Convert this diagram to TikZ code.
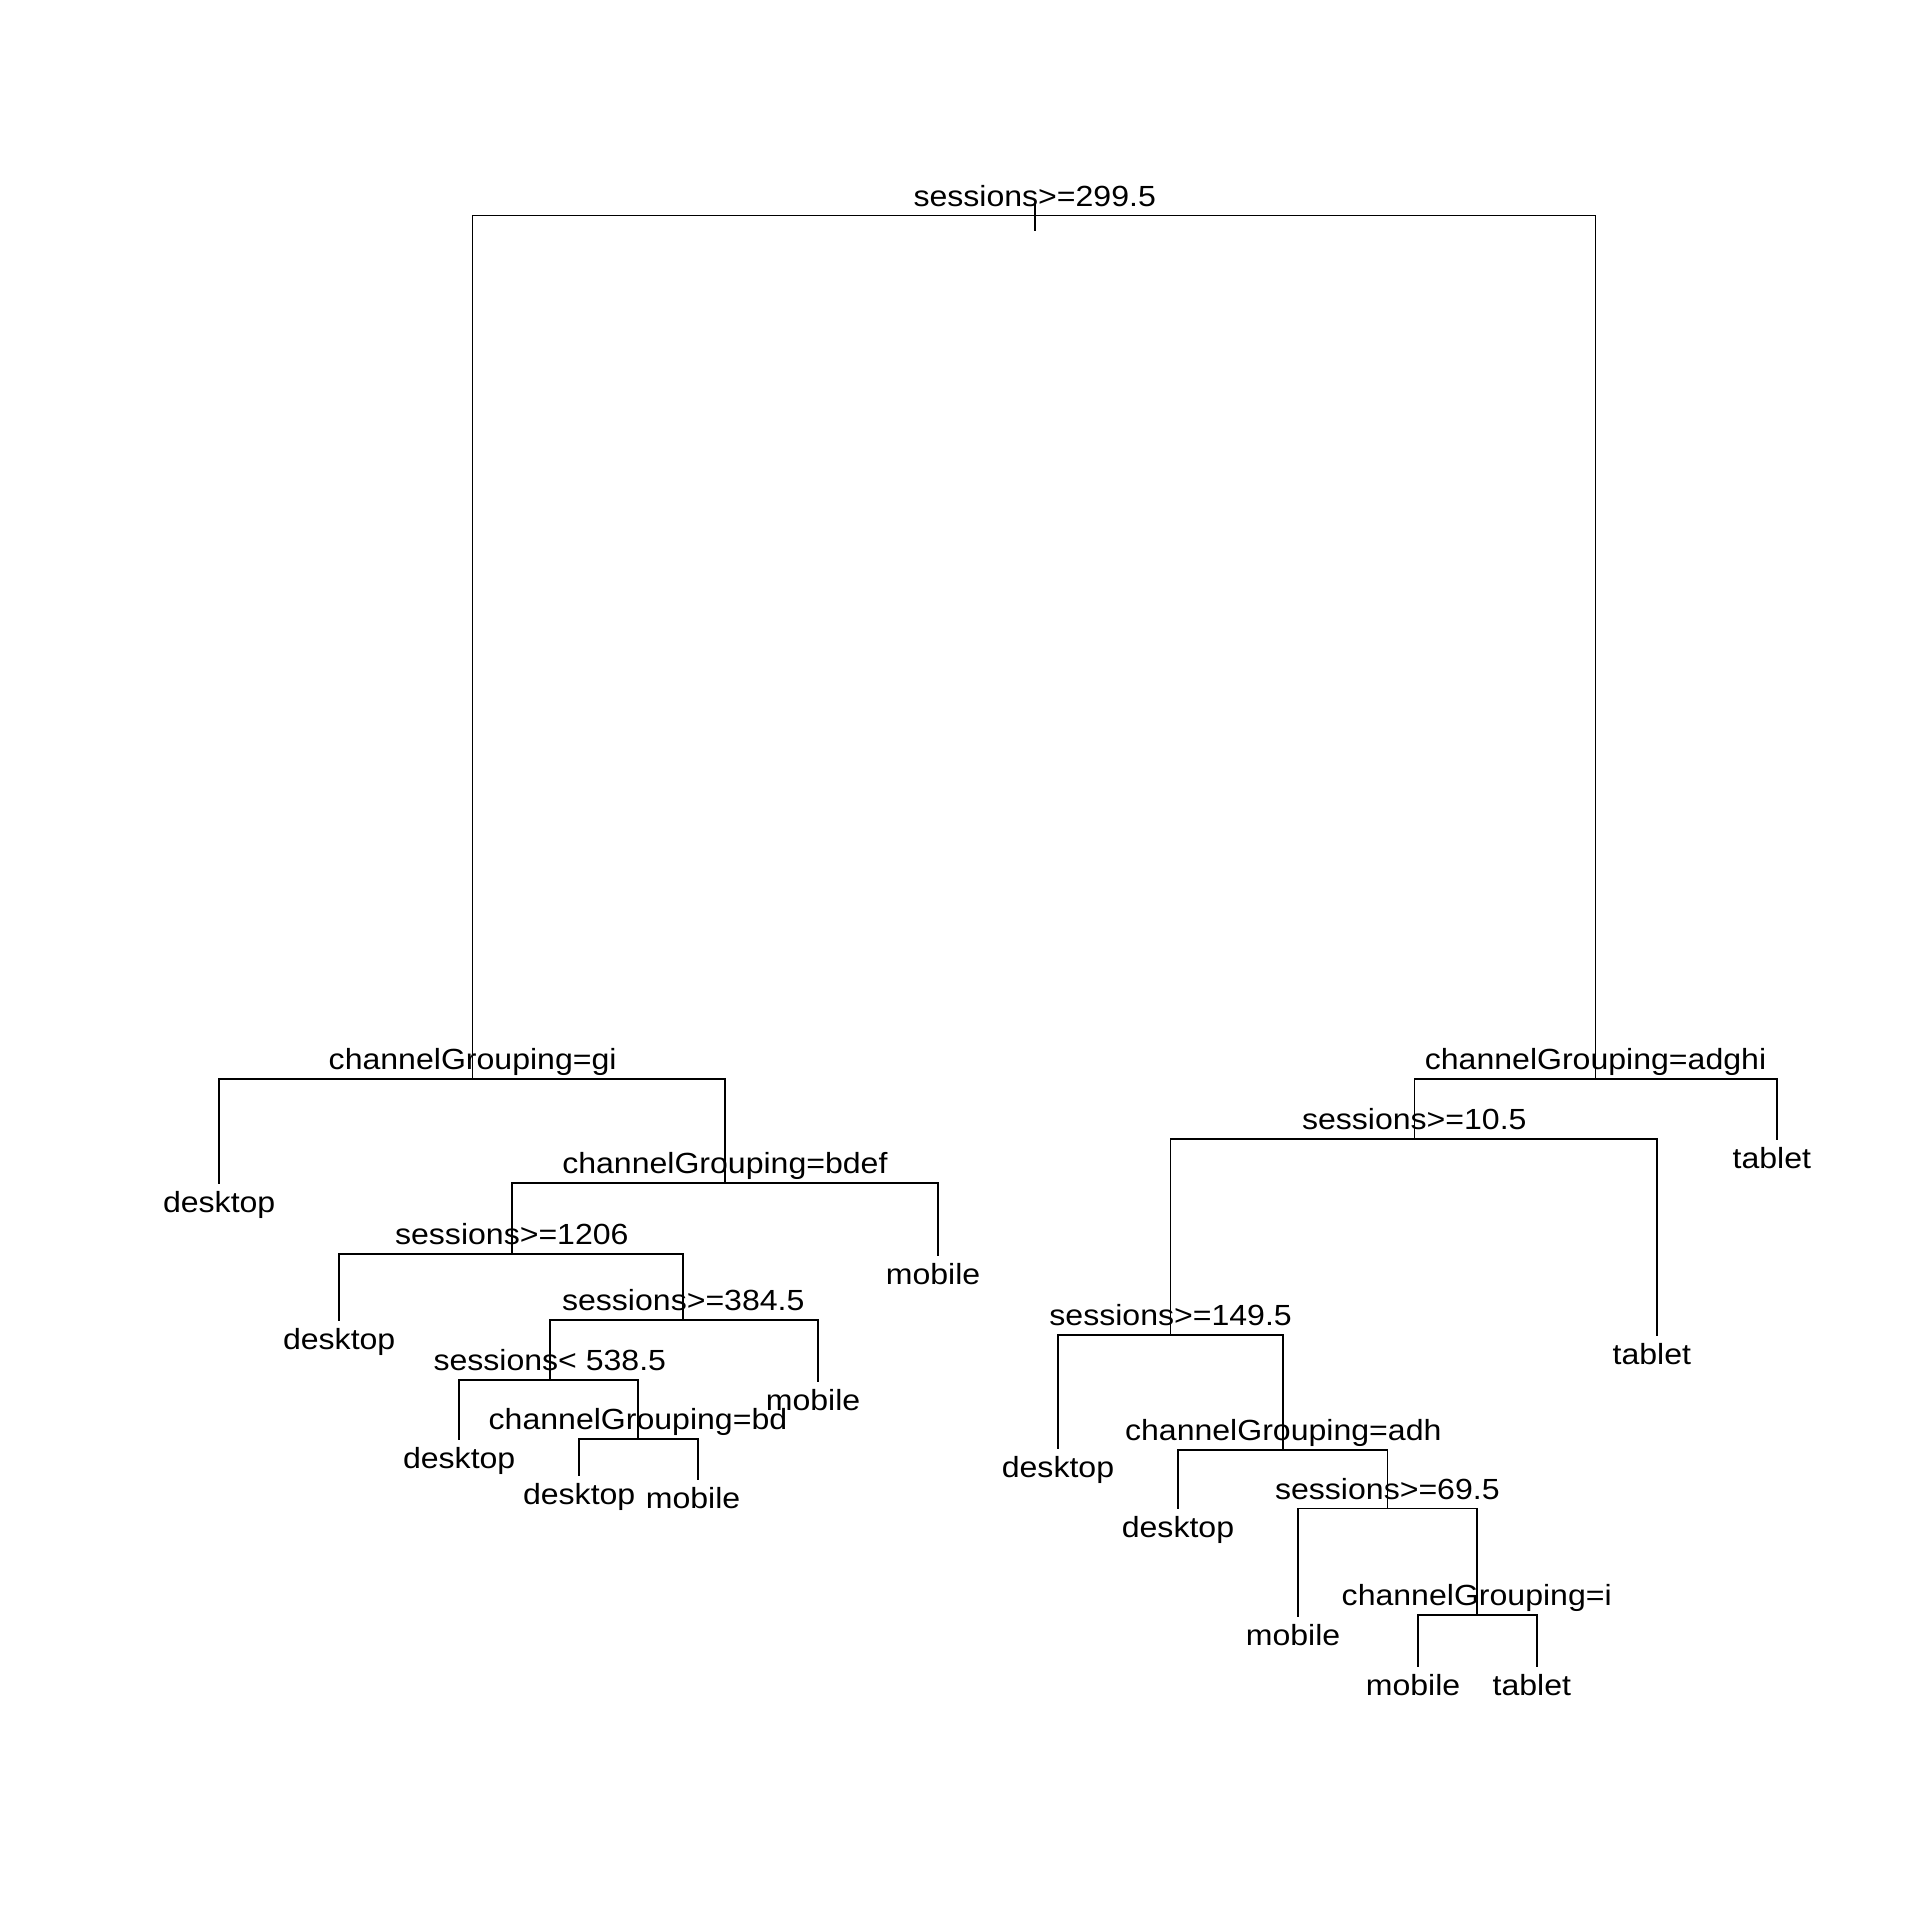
\documentclass[tikz,border=0pt]{standalone}
\usepackage{fontspec}
\setmainfont{Liberation Sans}[FakeStretch=1.1]
\begin{document}
\begin{tikzpicture}[x=0.5pt,y=-0.5pt,
  branch/.style={line width=0.65pt,line cap=rect},
  lab/.style={inner sep=0pt,outer sep=0pt,font=\fontsize{11.9}{14}\selectfont},
  split/.style={lab,anchor=base,yshift=3.75pt},
  leaf/.style={lab,anchor=base,yshift=-12pt},
  leafs/.style={leaf,xshift=-2pt}]
\useasboundingbox (0,0) rectangle (1568,1568);
\fill[white] (0,0) rectangle (1568,1568);
% split points
\coordinate (n1) at (845,176);
\coordinate (n1top) at (845,167.5);
\coordinate (n1bot) at (845,188);
\coordinate (n2) at (386,881);
\coordinate (n5) at (592,966);
\coordinate (n10) at (418,1024);
\coordinate (n21) at (558,1078);
\coordinate (n42) at (449,1127);
\coordinate (n85) at (521,1175);
\coordinate (n3) at (1303,881);
\coordinate (n6) at (1155,930);
\coordinate (n12) at (956,1090);
\coordinate (n25) at (1048,1184);
\coordinate (n51) at (1133,1232);
\coordinate (n103) at (1206,1319);
% leaves
\coordinate (l4) at (179,966);
\coordinate (l11) at (766,1025);
\coordinate (l20) at (277,1078);
\coordinate (l43) at (668,1128);
\coordinate (l84) at (375,1175);
\coordinate (l170) at (473,1205);
\coordinate (l171) at (570,1208);
\coordinate (l7) at (1451,930);
\coordinate (l13) at (1353,1090);
\coordinate (l24) at (864,1183);
\coordinate (l50) at (962,1232);
\coordinate (l102) at (1060,1320);
\coordinate (l206) at (1158,1361);
\coordinate (l207) at (1255,1361);
% branches
\draw[branch] (n1top) -- (n1bot);
\draw[branch] (n1) -| (n2);
\draw[branch] (n1) -| (n3);
\draw[branch] (n2) -| (l4);
\draw[branch] (n2) -| (n5);
\draw[branch] (n5) -| (n10);
\draw[branch] (n5) -| (l11);
\draw[branch] (n10) -| (l20);
\draw[branch] (n10) -| (n21);
\draw[branch] (n21) -| (n42);
\draw[branch] (n21) -| (l43);
\draw[branch] (n42) -| (l84);
\draw[branch] (n42) -| (n85);
\draw[branch] (n85) -| (l170);
\draw[branch] (n85) -| (l171);
\draw[branch] (n3) -| (n6);
\draw[branch] (n3) -| (l7);
\draw[branch] (n6) -| (n12);
\draw[branch] (n6) -| (l13);
\draw[branch] (n12) -| (l24);
\draw[branch] (n12) -| (n25);
\draw[branch] (n25) -| (l50);
\draw[branch] (n25) -| (n51);
\draw[branch] (n51) -| (l102);
\draw[branch] (n51) -| (n103);
\draw[branch] (n103) -| (l206);
\draw[branch] (n103) -| (l207);
% split labels
\node[split] (t1) at (n1) {sessions>=299.5};
\node[split] (t2) at (n2) {channelGrouping=gi};
\node[split] (t5) at (n5) {channelGrouping=bdef};
\node[split] (t10) at (n10) {sessions>=1206};
\node[split] (t21) at (n21) {sessions>=384.5};
\node[split] (t42) at (n42) {sessions< 538.5};
\node[split] (t85) at (n85) {channelGrouping=bd};
\node[split] (t3) at (n3) {channelGrouping=adghi};
\node[split] (t6) at (n6) {sessions>=10.5};
\node[split] (t12) at (n12) {sessions>=149.5};
\node[split] (t25) at (n25) {channelGrouping=adh};
\node[split] (t51) at (n51) {sessions>=69.5};
\node[split] (t103) at (n103) {channelGrouping=i};
% leaf labels
\node[leaf] (tl4) at (l4) {desktop};
\node[leafs] (tl11) at (l11) {mobile};
\node[leaf] (tl20) at (l20) {desktop};
\node[leafs] (tl43) at (l43) {mobile};
\node[leaf] (tl84) at (l84) {desktop};
\node[leaf] (tl170) at (l170) {desktop};
\node[leafs] (tl171) at (l171) {mobile};
\node[leafs] (tl7) at (l7) {tablet};
\node[leafs] (tl13) at (l13) {tablet};
\node[leaf] (tl24) at (l24) {desktop};
\node[leaf] (tl50) at (l50) {desktop};
\node[leafs] (tl102) at (l102) {mobile};
\node[leafs] (tl206) at (l206) {mobile};
\node[leafs] (tl207) at (l207) {tablet};
\end{tikzpicture}
\end{document}
